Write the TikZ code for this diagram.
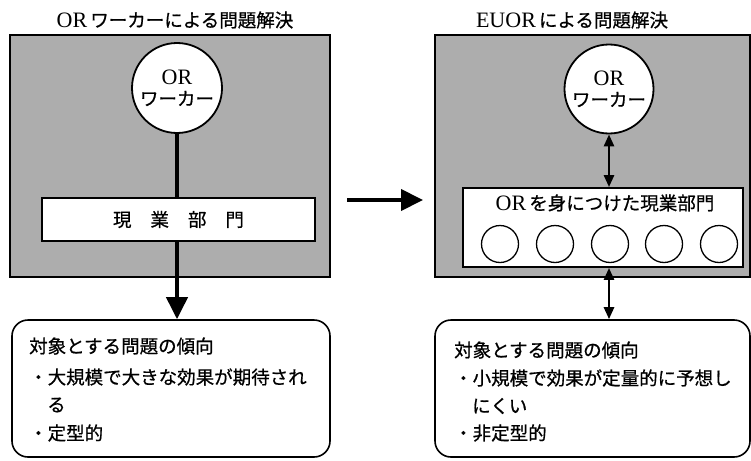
\documentclass[tikz,border=0pt]{standalone}
\usepackage{fontspec}
\setmainfont{Liberation Serif}
\newfontfamily\jp{Noto Sans CJK JP}[FakeBold=0.7]
\newcommand\latx[1]{{\fontsize{22}{24}\selectfont #1}}
\usetikzlibrary{arrows.meta}
\tikzset{
  txt/.style={inner sep=0pt, font=\fontsize{18.5}{21}\selectfont},
  panel/.style={draw, line width=1.6pt, fill=black!32, inner sep=0pt},
  wbox/.style={draw, line width=1.8pt, fill=white, inner sep=0pt},
  bigcirc/.style={draw, circle, line width=1.8pt, fill=white, inner sep=0pt, align=center, font=\fontsize{18.5}{23}\selectfont},
  smallcirc/.style={draw, circle, line width=1.3pt, fill=white, inner sep=0pt, minimum size=37pt},
  notebox/.style={draw, line width=1.6pt, rounded corners=16pt, inner sep=0pt},
  thickline/.style={line width=4pt},
  bigarrow/.style={line width=4pt, -{Triangle[length=22pt,width=21pt]}},
  dblarrow/.style={line width=2.6pt, {Triangle[length=12pt,width=10pt]}-{Triangle[length=12pt,width=10pt]}},
  line/.style={txt, anchor=west}
}
\begin{document}
\begin{tikzpicture}[x=1pt,y=-1pt]
\useasboundingbox[fill=white] (0,0) rectangle (751,460);

% titles
\node[txt] (t1) at (175,20) {\latx{OR}\,{\jp ワーカーによる問題解決}};
\node[txt] (t2) at (572,20) {\latx{EUOR}\,{\jp による問題解決}};

% left panel
\node[panel, minimum width=320pt, minimum height=242pt] (lp) at (170,156) {};
\node[bigcirc, minimum size=90pt] (lc) at (177,88) {\latx{OR}\\[-2pt]{\jp ワーカー}};
\node[wbox, minimum width=273pt, minimum height=43pt, font=\fontsize{18.5}{21}\selectfont] (lw) at (178.5,219.5) {\jp 現\hspace{19pt}業\hspace{19pt}部\hspace{19pt}門};
\draw[thickline] (lc.south) -- (lc.south |- lw.north);

% left notes
\node[notebox, minimum width=318pt, minimum height=137pt] (lb) at (171,388.5) {};
\draw[bigarrow] (lc.south |- lw.south) -- (lc.south |- lb.north);
\node[line] (l1) at (29,346) {\jp 対象とする問題の傾向};
\node[line] (l2) at (29,377) {\jp ・大規模で大きな効果が期待され};
\node[line] (l3) at (47,405) {\jp る};
\node[line] (l4) at (29,433) {\jp ・定型的};

% middle arrow
\coordinate (ma) at (347,200);
\coordinate (mb) at (423,200);
\draw[bigarrow] (ma) -- (mb);

% right panel
\node[panel, minimum width=315pt, minimum height=242pt] (rp) at (592.5,156) {};
\node[bigcirc, minimum size=89pt] (rc) at (609,89) {\latx{OR}\\[-2pt]{\jp ワーカー}};
\node[wbox, minimum width=280pt, minimum height=79pt] (rw) at (603,227.5) {};
\node[txt] (rt) at (605,203) {\latx{OR}\,{\jp を身につけた現業部門}};
\node[smallcirc] (c1) at (500,244) {};
\node[smallcirc] (c2) at (555,244) {};
\node[smallcirc] (c3) at (610,244) {};
\node[smallcirc] (c4) at (664,244) {};
\node[smallcirc] (c5) at (719,244) {};
\draw[dblarrow] (rc.south) -- (rc.south |- rw.north);

% right notes
\node[notebox, minimum width=315pt, minimum height=137pt] (rb) at (592.5,388.5) {};
\draw[dblarrow] (rc.south |- rw.south) -- (rc.south |- rb.north);
\node[line] (r1) at (454,350) {\jp 対象とする問題の傾向};
\node[line] (r2) at (454,378) {\jp ・小規模で効果が定量的に予想し};
\node[line] (r3) at (472,406) {\jp にくい};
\node[line] (r4) at (454,433) {\jp ・非定型的};
\end{tikzpicture}
\end{document}
